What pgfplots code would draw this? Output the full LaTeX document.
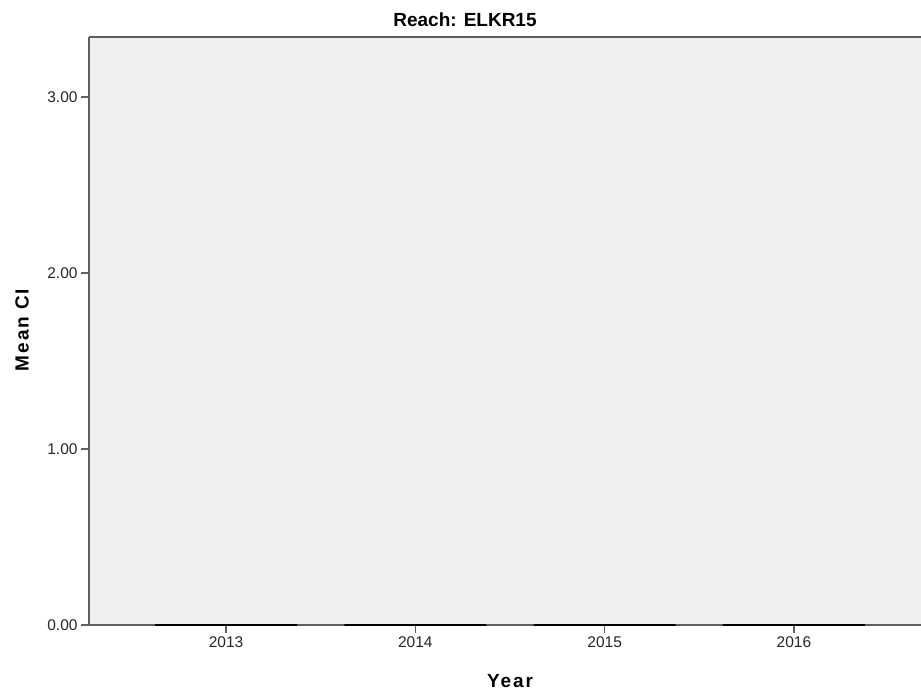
\documentclass[border=0pt]{standalone}
\usepackage{fontspec}
\setmainfont{Liberation Sans}
\usepackage{pgfplots}
\pgfplotsset{compat=1.18}
\definecolor{bg}{RGB}{240,240,240}
\definecolor{axisgray}{RGB}{95,95,95}
\begin{document}
\begin{tikzpicture}
\begin{axis}[
  at={(0,0)}, anchor=south west,
  scale only axis, width=832bp, height=588bp,
  xmin=2012.276, xmax=2016.671, ymin=0, ymax=3.341,
  axis x line*=bottom, axis y line*=left,
  axis line style={axisgray, line width=1.5bp},
  axis background/.style={fill=bg},
  clip=false,
  xtick={2013,2014,2015,2016},
  xticklabels={2013,2014,2015,2016},
  ytick={0,1,2,3},
  yticklabel style={/pgf/number format/.cd, fixed, fixed zerofill, precision=2, assume math mode=true},
  tick align=outside, major tick length=8bp,
  tick style={axisgray, line width=1.5bp},
  ticklabel style={font=\fontsize{15.5bp}{18bp}\selectfont, text=black!85},
  ybar, bar width=0.75,
]
\addplot[draw=black, line width=2bp, fill=none] coordinates {(2013,0) (2014,0) (2015,0) (2016,0)};
\draw[axisgray, line width=1.5bp] (rel axis cs:0,1) -- (rel axis cs:1,1);
\end{axis}
\node[font=\bfseries\fontsize{19bp}{22bp}\selectfont] at (376bp,605bp) {Reach: ELKR15};
\node[font=\bfseries\fontsize{19bp}{22bp}\selectfont\addfontfeatures{LetterSpace=10}] at (421bp,-56bp) {Year};
\node[font=\bfseries\fontsize{19bp}{22bp}\selectfont\addfontfeatures{LetterSpace=10}, rotate=90] at (-67bp,295bp) {Mean CI};
\pgfresetboundingbox
\path (-89bp,-71bp) rectangle (832bp,625bp);
\end{tikzpicture}
\end{document}
